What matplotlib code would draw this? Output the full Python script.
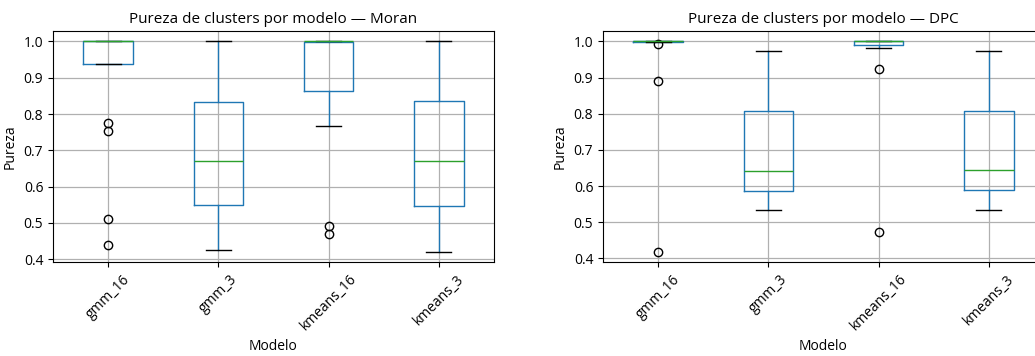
import matplotlib
matplotlib.use("Agg")
import matplotlib.pyplot as plt

plt.rcParams['font.family'] = ['Open Sans', 'DejaVu Sans']

modelos = ["gmm_16", "gmm_3", "kmeans_16", "kmeans_3"]

# Moran: resumen por modelo (q1, mediana, q3, bigotes, atipicos)
moran_q1 = [0.939, 0.548, 0.864, 0.547]
moran_med = [1.0, 0.671, 1.0, 0.671]
moran_q3 = [1.0, 0.833, 0.999, 0.836]
moran_whislo = [0.939, 0.425, 0.767, 0.421]
moran_whishi = [1.0, 1.0, 1.0, 1.0]
moran_fliers = [[0.776, 0.754, 0.512, 0.438], [], [0.492, 0.470], []]

# DPC
dpc_q1 = [0.998, 0.587, 0.990, 0.590]
dpc_med = [1.0, 0.642, 1.0, 0.644]
dpc_q3 = [1.0, 0.808, 1.0, 0.808]
dpc_whislo = [0.998, 0.533, 0.981, 0.533]
dpc_whishi = [1.0, 0.973, 1.0, 0.973]
dpc_fliers = [[0.994, 0.890, 0.419], [], [0.924, 0.472], []]


def stats(q1, med, q3, lo, hi, fl):
    return [dict(label=m, q1=a, med=b, q3=c, whislo=d, whishi=e, fliers=f)
            for m, a, b, c, d, e, f in zip(modelos, q1, med, q3, lo, hi, fl)]


fig = plt.figure(figsize=(10.35, 3.56), dpi=100)
ax1 = fig.add_axes([0.0512, 0.264, 0.4261, 0.649])
ax2 = fig.add_axes([0.5826, 0.264, 0.4261, 0.649])

paneles = [
    (ax1, stats(moran_q1, moran_med, moran_q3, moran_whislo, moran_whishi, moran_fliers), "Moran"),
    (ax2, stats(dpc_q1, dpc_med, dpc_q3, dpc_whislo, dpc_whishi, dpc_fliers), "DPC"),
]

for ax, st, nombre in paneles:
    ax.bxp(st, widths=0.45, patch_artist=False,
           boxprops=dict(color="#1f77b4"),
           whiskerprops=dict(color="#1f77b4"),
           capprops=dict(color="k"),
           medianprops=dict(color="#2ca02c"),
           flierprops=dict(marker="o", markeredgecolor="k", markerfacecolor="none"))
    ax.grid(True, color="#b0b0b0", linewidth=0.9)
    ax.set_axisbelow(True)
    ax.set_title(f"Pureza de clusters por modelo — {nombre}", fontsize=11)
    ax.set_xlabel("Modelo", fontsize=10)
    ax.set_ylabel("Pureza", fontsize=10)
    ax.tick_params(labelsize=10)
    plt.setp(ax.get_xticklabels(), rotation=45)

fig.savefig("out.png", dpi=100)
